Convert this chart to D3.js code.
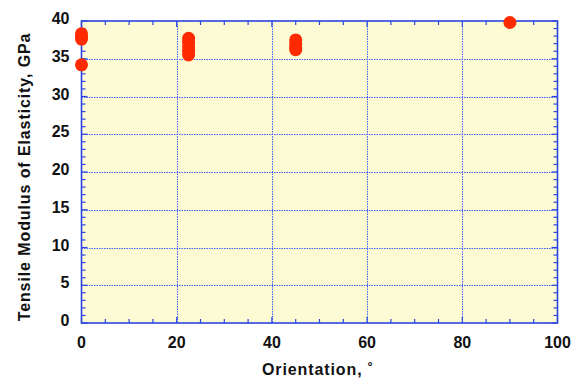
<!DOCTYPE html>
<html>
<head>
<meta charset="utf-8">
<script src="https://cdn.jsdelivr.net/npm/d3@7.9.0/dist/d3.min.js"></script>
<style>
  body { margin: 0; background: #fff; }
  text { font-family: "Liberation Sans", Arial, sans-serif; font-weight: bold; fill: #111; }
</style>
</head>
<body>
<svg id="chart" width="581" height="384"></svg>
<script>
// measured data: orientation (deg) vs tensile modulus (GPa)
const orientation = [0, 0, 0, 0, 22.5, 22.5, 22.5, 22.5, 22.5, 45, 45, 45, 45, 90];
const modulus = [38.3, 37.9, 37.6, 34.2, 37.7, 37.2, 36.6, 36.0, 35.5, 37.5, 37.0, 36.5, 36.2, 39.8];

const xTicks = [0, 20, 40, 60, 80, 100];
const yTicks = [0, 5, 10, 15, 20, 25, 30, 35, 40];
const xTitle = 'Orientation, \u02da';
const yTitle = 'Tensile Modulus of Elasticity, GPa';

const svg = d3.select('#chart');
const pLeft = 81.5, pRight = 557.5, pTop = 21, pBottom = 323;

const x = d3.scaleLinear().domain([0, 100]).range([pLeft, pRight]);
const y = d3.scaleLinear().domain([0, 40]).range([pBottom, pTop]);
const px = v => Math.round(v) + 0.5;

const blue = '#2a45e0';

// plot background
svg.append('rect')
  .attr('x', pLeft).attr('y', pTop)
  .attr('width', pRight - pLeft).attr('height', pBottom - pTop)
  .attr('fill', '#fdfbd3');

// dotted grid
const grid = svg.append('g').attr('stroke', '#4060ff').attr('stroke-width', 1)
  .attr('stroke-dasharray', '1.5,1');
xTicks.slice(1, -1).forEach(t => {
  grid.append('line').attr('x1', px(x(t))).attr('x2', px(x(t))).attr('y1', pTop).attr('y2', pBottom);
});
yTicks.slice(1, -1).forEach(t => {
  grid.append('line').attr('x1', pLeft).attr('x2', pRight).attr('y1', px(y(t))).attr('y2', px(y(t)));
});

// tick marks on all four sides (inside)
const ticks = svg.append('g').attr('stroke', blue).attr('stroke-width', 1.2);
d3.range(0, 101, 5).forEach(t => {
  const len = t % 20 === 0 ? 6 : 4;
  ticks.append('line').attr('x1', x(t)).attr('x2', x(t)).attr('y1', pBottom).attr('y2', pBottom - len);
  ticks.append('line').attr('x1', x(t)).attr('x2', x(t)).attr('y1', pTop).attr('y2', pTop + len);
});
d3.range(0, 41, 1).forEach(t => {
  const len = t % 5 === 0 ? 6 : 4;
  ticks.append('line').attr('x1', pLeft).attr('x2', pLeft + len).attr('y1', y(t)).attr('y2', y(t));
  ticks.append('line').attr('x1', pRight).attr('x2', pRight - len).attr('y1', y(t)).attr('y2', y(t));
});

// frame
svg.append('rect')
  .attr('x', pLeft).attr('y', pTop)
  .attr('width', pRight - pLeft).attr('height', pBottom - pTop)
  .attr('fill', 'none').attr('stroke', blue).attr('stroke-width', 1.6);

// tick labels
svg.append('g').selectAll('text').data(xTicks).join('text')
  .attr('x', d => x(d)).attr('y', 347.5)
  .attr('text-anchor', 'middle').attr('font-size', 16)
  .text(d => d);
svg.append('g').selectAll('text').data(yTicks).join('text')
  .attr('x', 69.5).attr('y', d => y(d) + 3)
  .attr('text-anchor', 'end').attr('font-size', 16)
  .text(d => d);

// axis titles
svg.append('text')
  .attr('x', 318).attr('y', 375)
  .attr('text-anchor', 'middle').attr('font-size', 16)
  .attr('letter-spacing', 0.9)
  .text(xTitle);
svg.append('text')
  .attr('transform', 'translate(30,177) rotate(-90)')
  .attr('text-anchor', 'middle').attr('font-size', 16)
  .attr('letter-spacing', 0.9)
  .text(yTitle);

// data points
svg.append('g').selectAll('circle').data(orientation).join('circle')
  .attr('cx', d => x(d))
  .attr('cy', (d, i) => y(modulus[i]))
  .attr('r', 6.5)
  .attr('fill', '#ff2a00');
</script>
</body>
</html>
